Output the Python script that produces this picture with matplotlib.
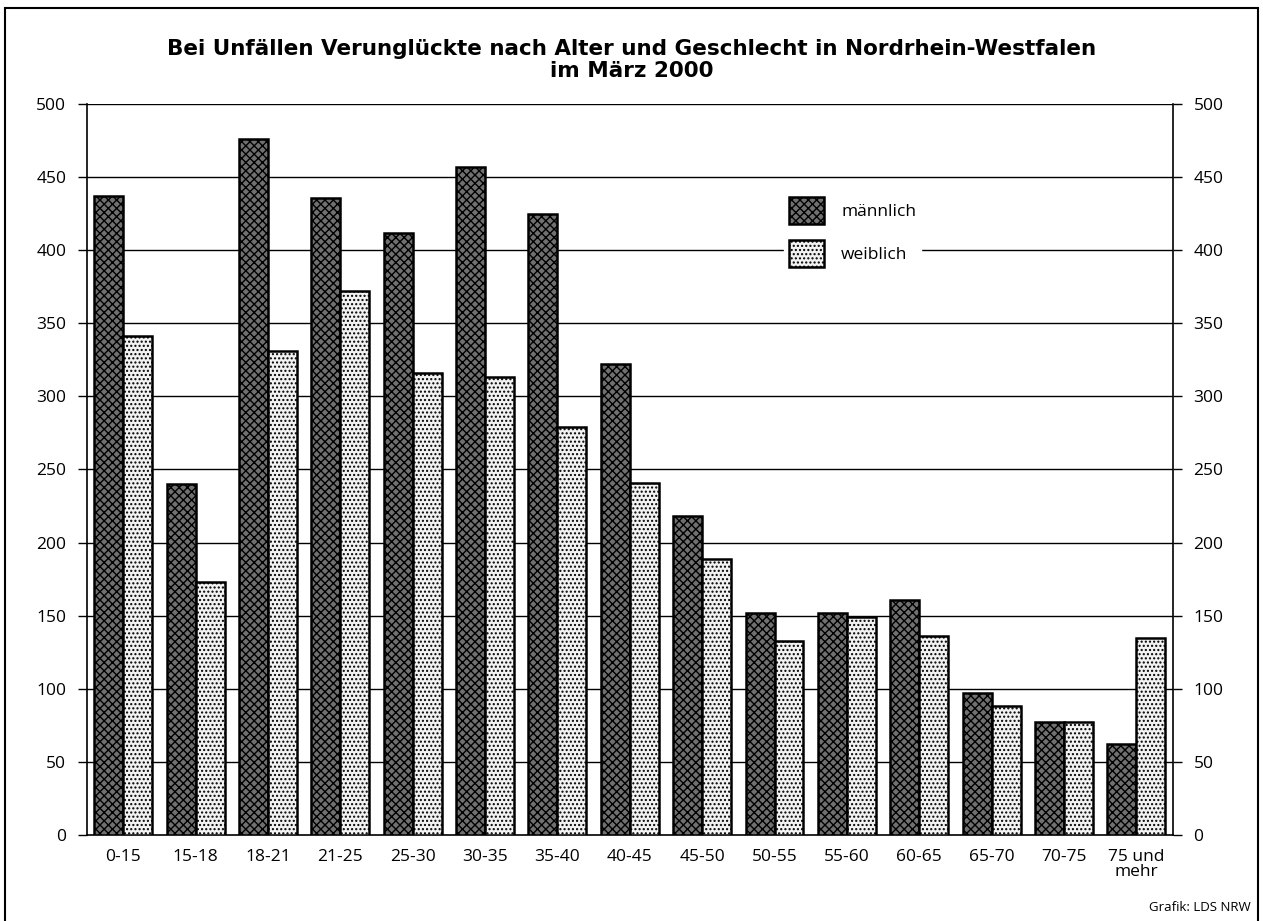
import matplotlib
matplotlib.use("Agg")
import matplotlib.pyplot as plt
import numpy as np
from matplotlib.patches import Rectangle

categories = ["0-15", "15-18", "18-21", "21-25", "25-30", "30-35", "35-40", "40-45",
              "45-50", "50-55", "55-60", "60-65", "65-70", "70-75", "75 und\nmehr"]
maennlich = [437, 240, 476, 436, 412, 457, 425, 322, 218, 152, 152, 161, 97, 77, 62]
weiblich = [341, 173, 331, 372, 316, 313, 279, 241, 189, 133, 149, 136, 88, 77, 135]
yticks = [0, 50, 100, 150, 200, 250, 300, 350, 400, 450, 500]
title_lines = ["Bei Unfällen Verunglückte nach Alter und Geschlecht in Nordrhein-Westfalen",
               "im März 2000"]

plt.rcParams['font.family'] = ['Open Sans', 'DejaVu Sans']
plt.rcParams['hatch.linewidth'] = 1.0

fig = plt.figure(figsize=(12.63, 9.21), dpi=100)
ax = fig.add_axes([0.0689, 0.0934, 0.8595, 0.7937])

x = np.arange(len(categories))
w = 0.4
ax.bar(x - w/2, maennlich, w, facecolor="#707070", edgecolor="black", hatch="xxxx",
       linewidth=1.8, zorder=3, label="männlich")
ax.bar(x + w/2, weiblich, w, facecolor="#f2f2f2", edgecolor="black", hatch="....",
       linewidth=1.8, zorder=3, label="weiblich")

ax.set_xlim(-0.5, len(categories) - 0.5)
ax.set_ylim(0, 500)
ax.set_yticks(yticks)
ax.set_yticklabels([str(v) for v in yticks], fontsize=12.5)
ax.set_xticks(x)
ax.set_xticklabels(categories, fontsize=12.5, linespacing=0.95)
ax.tick_params(axis='x', length=0, pad=10)
ax.tick_params(axis='y', length=6.5, width=1, direction='out', pad=8.5,
               left=True, right=True, labelleft=True, labelright=True)
for yv in yticks[1:]:
    ax.axhline(yv, color="black", linewidth=1.0, zorder=1)
for s in ["left", "right", "bottom"]:
    ax.spines[s].set_linewidth(1.2)
ax.spines["top"].set_visible(False)

leg = ax.legend(loc="upper left", bbox_to_anchor=(0.642, 0.88), frameon=True,
                fontsize=12.5, handlelength=2.0, handleheight=2.0, labelspacing=0.95,
                borderpad=0.3, handletextpad=1.0, borderaxespad=0)
leg.get_frame().set_edgecolor("white")
leg.get_frame().set_facecolor("white")
leg.get_frame().set_alpha(1.0)
leg.set_zorder(5)

fig.text(0.5, 0.947, title_lines[0], ha="center", va="center", fontsize=15.5,
         fontweight="bold", family=["DejaVu Sans"])
fig.text(0.5, 0.923, title_lines[1], ha="center", va="center", fontsize=15.5,
         fontweight="bold", family=["DejaVu Sans"])
fig.text(0.99, 0.008, "Grafik: LDS NRW", ha="right", va="bottom", fontsize=9.5)

fig.patches.append(Rectangle((0.004, -0.01), 0.992, 1.001, transform=fig.transFigure,
                             fill=False, edgecolor="black", linewidth=1.5))

fig.savefig("out.png", dpi=100)
